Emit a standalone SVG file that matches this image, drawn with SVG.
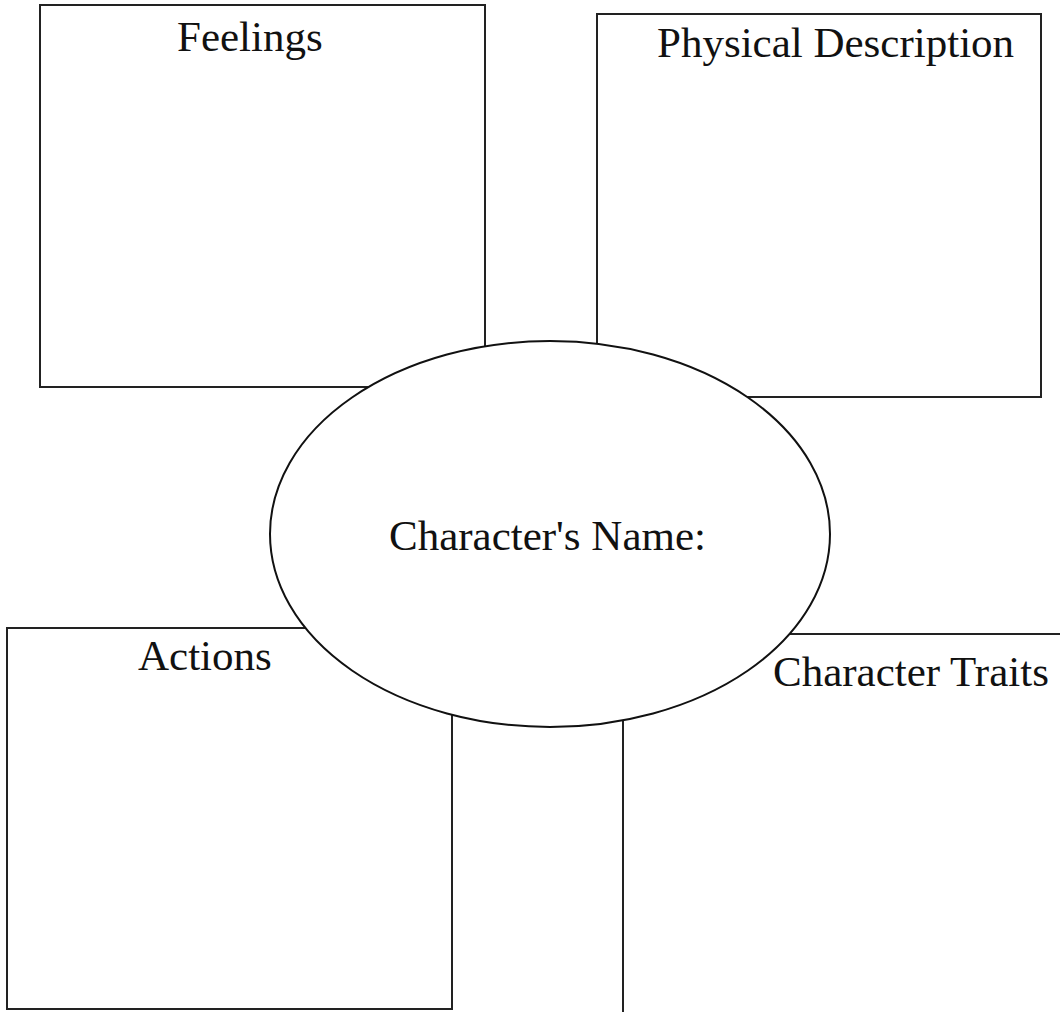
<svg xmlns="http://www.w3.org/2000/svg" width="1060" height="1012" viewBox="0 0 1060 1012">
<style>
.box{fill:#fff;stroke:#222;stroke-width:2}
.oval{fill:#fff;stroke:#111;stroke-width:2}
.lbl{font-family:'Liberation Serif',Tinos,'Times New Roman',Times,'DejaVu Serif',serif;font-size:43px;fill:#111}
</style>
<rect width="1060" height="1012" fill="#fff"/>
<g id="feelings"><rect class="box" x="40" y="5" width="445" height="382"/><text class="lbl" x="177" y="51" font-family="Liberation Serif, serif">Feelings</text></g>
<g id="physical"><rect class="box" x="597" y="14" width="444" height="383"/><text class="lbl" x="657" y="57">Physical Description</text></g>
<g id="actions"><rect class="box" x="7" y="628" width="445" height="381"/><text class="lbl" x="138" y="670">Actions</text></g>
<g id="traits"><rect class="box" x="623" y="634" width="470" height="420"/><text class="lbl" x="773" y="686">Character Traits</text></g>
<g id="connectors"></g>
<g id="name"><ellipse class="oval" cx="550" cy="534" rx="280" ry="193"/><text class="lbl" x="389" y="550">Character's Name:</text></g>
</svg>
